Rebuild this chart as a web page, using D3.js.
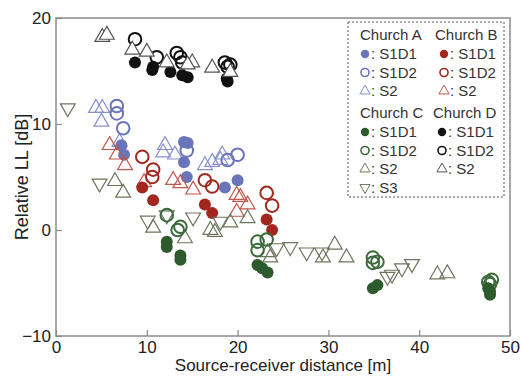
<!DOCTYPE html>
<html>
<head>
<meta charset="utf-8">
<script src="https://cdn.jsdelivr.net/npm/d3@7"></script>
<style>
  body { margin: 0; background: #fff; }
  svg { font-family: "Liberation Sans", Arial, sans-serif; }
</style>
</head>
<body>
<div id="rootDiv"></div>
<script>
// [distance m, relative LL dB]
const aS1D1 = [[7.2, 8.0], [7.5, 7.1], [14.1, 8.3], [14.5, 8.2], [14.1, 6.4], [14.4, 5.0], [18.6, 4.0], [20.0, 4.7]]
const aS1D2 = [[6.7, 11.7], [6.7, 11.0], [7.4, 9.6], [14.4, 7.5], [18.9, 6.6], [20.0, 7.1]]
const aS2 = [[4.4, 11.5], [5.1, 11.5], [5.0, 10.2], [7.0, 8.3], [12.0, 8.0], [11.8, 7.3], [13.1, 7.1], [16.4, 6.1], [17.2, 6.4], [18.3, 7.1], [18.1, 6.6]]

const bS1D1 = [[9.5, 4.0], [10.7, 2.8], [16.4, 2.4], [17.2, 1.6], [23.2, 1.0], [23.8, 0.0]]
const bS1D2 = [[9.5, 6.9], [10.7, 5.7], [10.6, 5.0], [16.4, 4.7], [17.2, 4.1], [23.2, 3.5], [23.8, 2.3]]
const bS2 = [[5.9, 8.0], [6.7, 7.1], [7.6, 6.1], [9.7, 4.5], [12.9, 4.7], [13.7, 4.4], [15.1, 3.8], [19.9, 3.3], [20.3, 3.1], [21.1, 2.4], [19.9, 1.7]]

const cS1D1 = [[12.2, -1.1], [12.2, -1.6], [13.7, -2.4], [13.7, -2.8], [22.2, -3.3], [22.7, -3.6], [23.3, -4.0], [34.9, -5.5], [35.4, -5.2], [47.6, -5.5], [47.8, -5.8], [47.8, -6.1]]
const cS1D2 = [[12.2, 1.4], [13.4, 0.0], [13.7, 0.3], [22.2, -1.1], [23.2, -0.9], [22.2, -1.9], [34.9, -2.6], [35.4, -3.0], [34.9, -3.1], [47.6, -4.9], [47.8, -5.1], [48.0, -4.7]]
const cS2 = [[6.5, 4.6], [7.4, 3.5], [10.7, 0.2], [14.2, -0.8], [17.0, 0.0], [17.5, -0.2], [19.2, 0.7], [21.1, 1.1], [23.3, -2.1], [23.6, -2.6], [29.4, -2.6], [30.7, -1.4], [32.0, -2.6], [42.0, -4.2], [43.1, -4.1]]
const cS3 = [[1.3, 11.5], [4.8, 4.4], [10.1, 0.9], [12.2, 1.4], [15.1, 1.2], [18.1, 0.8], [24.3, -1.7], [25.8, -1.6], [27.6, -2.1], [29.3, -2.1], [36.5, -4.4], [37.0, -4.2], [38.1, -3.6], [39.2, -3.2]]

const dS1D1 = [[8.7, 15.8], [10.6, 15.1], [10.7, 15.4], [12.6, 14.9], [13.9, 14.6], [14.5, 14.4], [18.9, 14.0], [18.8, 14.3]]
const dS1D2 = [[8.7, 18.0], [11.1, 16.3], [13.3, 16.7], [13.7, 16.3], [13.9, 15.8], [18.6, 15.8], [18.9, 15.4], [19.2, 15.6]]
const dS2 = [[5.1, 18.2], [5.6, 18.4], [8.4, 17.0], [10.0, 16.8], [12.2, 15.8], [15.0, 15.8], [14.5, 15.6], [17.2, 15.3], [19.2, 14.9]]

const xTicks = [0, 10, 20, 30, 40, 50]
const yTicks = [-10, 0, 10, 20]

const colA = "#6a74b8", colAt = "#8890cc"
const colB = "#a2281f", colBt = "#c2574b"
const colC = "#2e5b2e", colCo = "#3d6a3b", colCt = "#6e755e"
const colD = "#111", colDt = "#555"

const width = 521, height = 376
const margin = { top: 18, right: 11, bottom: 40, left: 56 }

const svg = d3.select("#rootDiv").append("svg")
    .attr("width", width)
    .attr("height", height)

const x = d3.scaleLinear().domain([0, 50]).range([margin.left, width - margin.right])
const y = d3.scaleLinear().domain([-10, 20]).range([height - margin.bottom, margin.top])

const tri = d3.symbol().type(d3.symbolTriangle).size(95)
const triSmall = d3.symbol().type(d3.symbolTriangle).size(45)

function filled(data, col, r = 6) {
    svg.append("g").selectAll("circle").data(data).enter().append("circle")
        .attr("cx", d => x(d[0])).attr("cy", d => y(d[1])).attr("r", r)
        .attr("fill", col)
}
function open(data, col) {
    svg.append("g").selectAll("circle").data(data).enter().append("circle")
        .attr("cx", d => x(d[0])).attr("cy", d => y(d[1])).attr("r", 6.3)
        .attr("fill", "none").attr("stroke", col).attr("stroke-width", 2)
}
function up(data, col, fill = "none") {
    svg.append("g").selectAll("path").data(data).enter().append("path")
        .attr("d", tri)
        .attr("transform", d => `translate(${x(d[0])},${y(d[1])})`)
        .attr("fill", fill).attr("stroke", col).attr("stroke-width", 1.2)
}
function down(data, col) {
    svg.append("g").selectAll("path").data(data).enter().append("path")
        .attr("d", tri)
        .attr("transform", d => `translate(${x(d[0])},${y(d[1])}) rotate(180)`)
        .attr("fill", "none").attr("stroke", col).attr("stroke-width", 1.2)
}

// frame
svg.append("rect")
    .attr("x", margin.left).attr("y", margin.top)
    .attr("width", width - margin.left - margin.right)
    .attr("height", height - margin.top - margin.bottom)
    .attr("fill", "none").attr("stroke", "#8a8a8a").attr("stroke-width", 1.5)

// series
up(aS2, colAt); open(aS1D2, colA); filled(aS1D1, colA)
up(bS2, colBt); open(bS1D2, colB); filled(bS1D1, colB)
up(cS2, colCt); down(cS3, colCt); open(cS1D2, colCo); filled(cS1D1, colC)
filled(dS1D1, colD); open(dS1D2, colD); up(dS2, colDt, "#fff")

// axes
const xAxis = svg.append("g")
    .attr("transform", `translate(0,${height - margin.bottom})`)
    .call(d3.axisBottom(x).tickValues(xTicks).tickSize(-6).tickPadding(5))
const yAxis = svg.append("g")
    .attr("transform", `translate(${margin.left},0)`)
    .call(d3.axisLeft(y).tickValues(yTicks).tickSize(-6).tickPadding(5).tickFormat(d => d < 0 ? "\u2212" + (-d) : d))
for (const axis of [xAxis, yAxis]) {
    axis.select(".domain").remove()
    axis.selectAll("line").style("stroke", "#8a8a8a").style("stroke-width", 1.2)
    axis.selectAll("text").style("fill", "#222").style("font-size", "17px")
}

svg.append("text")
    .attr("x", x(25)).attr("y", 371)
    .attr("text-anchor", "middle").attr("fill", "#222").style("font-size", "17px")
    .text("Source-receiver distance [m]")
svg.append("text")
    .attr("transform", `translate(28,${y(5)}) rotate(-90)`)
    .attr("text-anchor", "middle").attr("fill", "#222").style("font-size", "18px")
    .text("Relative LL [dB]")

// legend
const lg = svg.append("g")
lg.append("rect").attr("x", 348).attr("y", 22).attr("width", 156).attr("height", 175)
    .attr("fill", "#fff").attr("stroke", "#555").attr("stroke-width", 1).attr("stroke-dasharray", "2,2")

const legendCols = [
    { title: "Church A", x: 360, y: 40, items: [["f", colA, "S1D1"], ["o", colA, "S1D2"], ["u", colAt, "S2"]] },
    { title: "Church B", x: 435, y: 40, items: [["f", colB, "S1D1"], ["o", colB, "S1D2"], ["u", colBt, "S2"]] },
    { title: "Church C", x: 360, y: 118, items: [["f", colC, "S1D1"], ["o", colCo, "S1D2"], ["u", colCt, "S2"], ["d", colCt, "S3"]] },
    { title: "Church D", x: 433, y: 118, items: [["f", colD, "S1D1"], ["o", colD, "S1D2"], ["u", colDt, "S2"]] },
]
for (const c of legendCols) {
    lg.append("text").attr("x", c.x).attr("y", c.y).attr("fill", "#333")
        .style("font-size", "15px").text(c.title)
    c.items.forEach((it, i) => {
        const cy = c.y + 14 + i * 18.5
        const mx = c.x + 5 + (c.title === "Church A" || c.title === "Church C" ? 0 : 4)
        if (it[0] === "f") lg.append("circle").attr("cx", mx).attr("cy", cy).attr("r", 4.2).attr("fill", it[1])
        if (it[0] === "o") lg.append("circle").attr("cx", mx).attr("cy", cy).attr("r", 4).attr("fill", "none").attr("stroke", it[1]).attr("stroke-width", 1.6)
        if (it[0] === "u") lg.append("path").attr("d", triSmall).attr("transform", `translate(${mx},${cy})`).attr("fill", "none").attr("stroke", it[1])
        if (it[0] === "d") lg.append("path").attr("d", triSmall).attr("transform", `translate(${mx},${cy}) rotate(180)`).attr("fill", "none").attr("stroke", it[1])
        lg.append("text").attr("x", mx + 6).attr("y", cy + 5).attr("fill", "#333")
            .style("font-size", "15px").text(": " + it[2])
    })
}
</script>
</body>
</html>
